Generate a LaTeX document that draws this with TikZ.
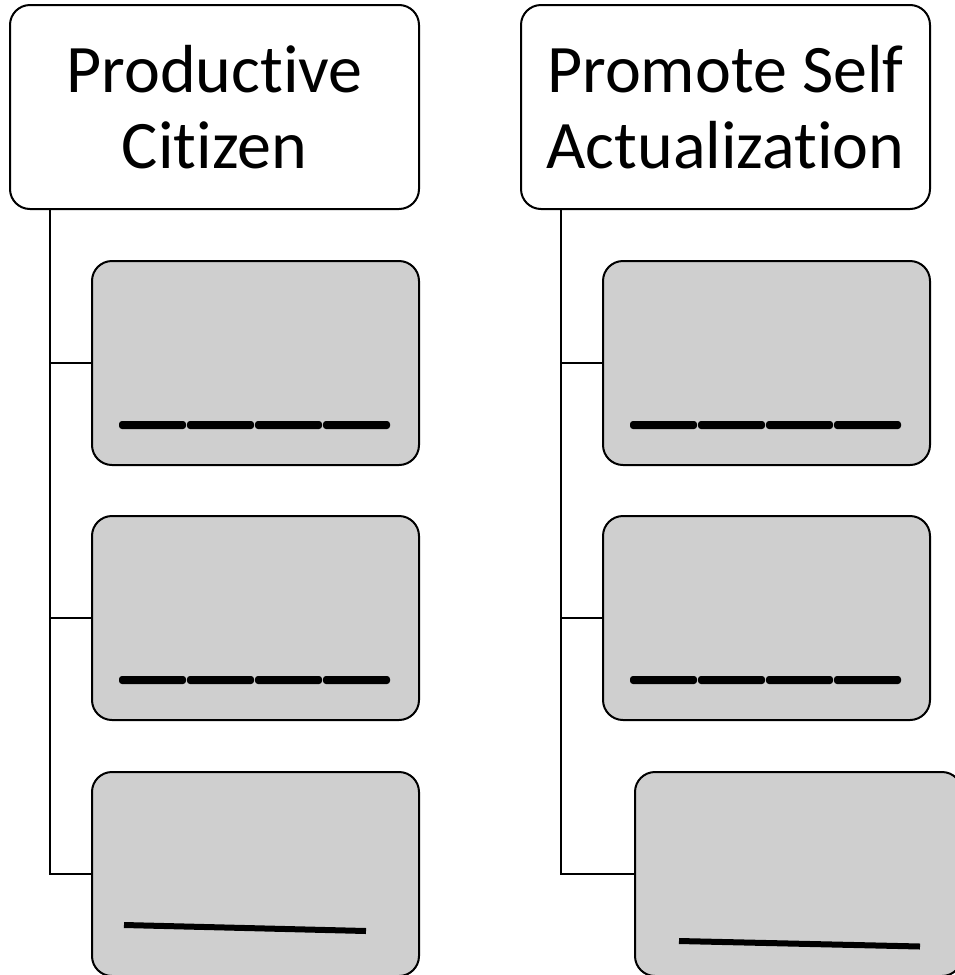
\documentclass[tikz,border=0pt]{standalone}
\usepackage{fontspec}
\setmainfont[Ligatures={NoCommon}]{Carlito}
\usetikzlibrary{calc}
\definecolor{boxgray}{RGB}{207,207,207}
\begin{document}
\begin{tikzpicture}[x=1pt,y=-1pt,
  head/.style={draw=black, line width=2pt, fill=white, rounded corners=20pt,
    minimum width=409pt, minimum height=204pt, inner sep=0pt, align=center,
    font=\fontsize{68}{76}\selectfont},
  item/.style={draw=black, line width=2pt, fill=boxgray, rounded corners=20pt,
    minimum width=327pt, minimum height=204pt, inner sep=0pt},
  link/.style={line width=2pt},
  blank/.style={fill=black, rounded corners=3pt},
  rule/.style={line width=6pt}]
\useasboundingbox (0,0) rectangle (955,975);
\begin{scope}
\clip (0,0) rectangle (955,975);

% column headings
\node[head] (h1) at (214.5,107) {Productive\\Citizen};
\node[head] (h2) at (725.5,107) {Promote Self\\Actualization};

% item boxes
\node[item] (c1) at (255.5,363) {};
\node[item] (c2) at (255.5,618) {};
\node[item] (c3) at (255.5,874) {};
\node[item] (d1) at (766.5,363) {};
\node[item] (d2) at (766.5,618) {};
\node[item] (d3) at (798.5,874) {};

% trunks and branches
\coordinate (t1) at ($(h1.south west)+(41,0)$);
\coordinate (t2) at ($(h2.south west)+(41,0)$);
\draw[link] (t1) |- (c3.west);
\draw[link] (c1.west -| t1) -- (c1.west);
\draw[link] (c2.west -| t1) -- (c2.west);
\draw[link] (t2) |- (d3.west);
\draw[link] (d1.west -| t2) -- (d1.west);
\draw[link] (d2.west -| t2) -- (d2.west);

% blanks to fill in
\foreach \n in {c1,c2,d1,d2}{
  \foreach \k in {0,...,3}{
    \fill[blank] ($(\n.west)+(28+68*\k,58)$) rectangle ++(67,8);
  }
}
\draw[rule] ($(c3.west)+(33,51)$) -- ($(c3.west)+(275,57)$);
\draw[rule] ($(d3.west)+(45,67)$) -- ($(d3.west)+(286,72.5)$);
\end{scope}
\end{tikzpicture}
\end{document}
